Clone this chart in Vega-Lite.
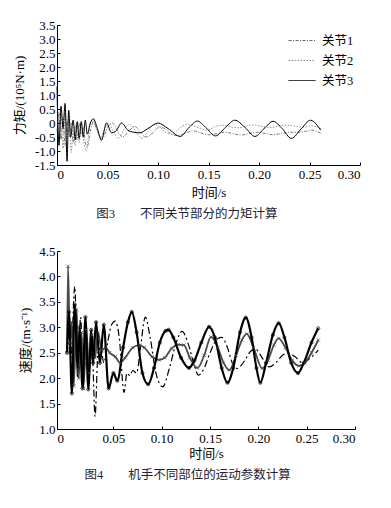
{
  "$schema": "https://vega.github.io/schema/vega-lite/v6.json",
  "padding": {"left": 13, "top": 19, "right": 5, "bottom": 5},
  "spacing": 24,
  "config": {
    "view": {"stroke": null},
    "font": "Liberation Serif, Times New Roman, Noto Sans CJK SC",
    "axis": {
      "grid": false, "domainColor": "#000", "tickColor": "#000", "labelColor": "#000", "titleColor": "#000",
      "labelFont": "Liberation Serif, Times New Roman, DejaVu Serif, serif", "labelFontSize": 13,
      "titleFont": "Liberation Serif, Times New Roman, Noto Sans CJK SC", "titleFontSize": 13, "titleFontWeight": "normal",
      "tickSize": -3, "labelPadding": 5, "domainWidth": 1, "tickWidth": 1
    },
    "legend": {"labelFont": "Liberation Serif, Times New Roman, Noto Sans CJK SC", "labelFontSize": 12.5, "labelColor": "#000", "padding": 0}
  },
  "datasets": {
    "torque": [
      {"series": "关节1", "t": 0, "v": -0.3}, {"series": "关节1", "t": 0.002, "v": 0.4}, {"series": "关节1", "t": 0.004, "v": -0.6}, {"series": "关节1", "t": 0.006, "v": 0.2}, {"series": "关节1", "t": 0.008, "v": -0.8}, {"series": "关节1", "t": 0.010, "v": 0.1}, {"series": "关节1", "t": 0.012, "v": -0.5}, {"series": "关节1", "t": 0.014, "v": 0.0}, {"series": "关节1", "t": 0.016, "v": -0.7}, {"series": "关节1", "t": 0.018, "v": -0.1}, {"series": "关节1", "t": 0.020, "v": -0.6}, {"series": "关节1", "t": 0.022, "v": 0.0}, {"series": "关节1", "t": 0.024, "v": -0.4}, {"series": "关节1", "t": 0.026, "v": -0.1}, {"series": "关节1", "t": 0.028, "v": -0.7}, {"series": "关节1", "t": 0.030, "v": -0.85}, {"series": "关节1", "t": 0.033, "v": -0.3}, {"series": "关节1", "t": 0.036, "v": 0.05}, {"series": "关节1", "t": 0.040, "v": -0.3}, {"series": "关节1", "t": 0.045, "v": -0.55}, {"series": "关节1", "t": 0.050, "v": -0.15}, {"series": "关节1", "t": 0.055, "v": 0.0}, {"series": "关节1", "t": 0.060, "v": -0.3}, {"series": "关节1", "t": 0.065, "v": -0.5}, {"series": "关节1", "t": 0.071, "v": -0.3}, {"series": "关节1", "t": 0.077, "v": -0.12}, {"series": "关节1", "t": 0.083, "v": -0.35}, {"series": "关节1", "t": 0.089, "v": -0.5}, {"series": "关节1", "t": 0.095, "v": -0.35}, {"series": "关节1", "t": 0.101, "v": -0.15}, {"series": "关节1", "t": 0.107, "v": -0.2}, {"series": "关节1", "t": 0.113, "v": -0.4}, {"series": "关节1", "t": 0.120, "v": -0.45}, {"series": "关节1", "t": 0.128, "v": -0.35}, {"series": "关节1", "t": 0.135, "v": -0.28}, {"series": "关节1", "t": 0.142, "v": -0.35}, {"series": "关节1", "t": 0.150, "v": -0.42}, {"series": "关节1", "t": 0.158, "v": -0.38}, {"series": "关节1", "t": 0.166, "v": -0.33}, {"series": "关节1", "t": 0.174, "v": -0.38}, {"series": "关节1", "t": 0.182, "v": -0.43}, {"series": "关节1", "t": 0.190, "v": -0.38}, {"series": "关节1", "t": 0.198, "v": -0.33}, {"series": "关节1", "t": 0.206, "v": -0.37}, {"series": "关节1", "t": 0.214, "v": -0.42}, {"series": "关节1", "t": 0.222, "v": -0.37}, {"series": "关节1", "t": 0.230, "v": -0.33}, {"series": "关节1", "t": 0.238, "v": -0.33}, {"series": "关节1", "t": 0.246, "v": -0.3}, {"series": "关节1", "t": 0.252, "v": -0.25}, {"series": "关节1", "t": 0.258, "v": -0.32}, {"series": "关节1", "t": 0.262, "v": -0.38},
      {"series": "关节2", "t": 0, "v": 0.9}, {"series": "关节2", "t": 0.002, "v": -0.6}, {"series": "关节2", "t": 0.004, "v": 0.3}, {"series": "关节2", "t": 0.006, "v": -0.9}, {"series": "关节2", "t": 0.008, "v": 0.5}, {"series": "关节2", "t": 0.010, "v": -0.4}, {"series": "关节2", "t": 0.012, "v": 0.45}, {"series": "关节2", "t": 0.014, "v": -1.05}, {"series": "关节2", "t": 0.016, "v": -0.3}, {"series": "关节2", "t": 0.018, "v": -0.8}, {"series": "关节2", "t": 0.020, "v": 0.0}, {"series": "关节2", "t": 0.022, "v": -0.7}, {"series": "关节2", "t": 0.024, "v": 0.05}, {"series": "关节2", "t": 0.026, "v": -0.55}, {"series": "关节2", "t": 0.029, "v": -1.0}, {"series": "关节2", "t": 0.032, "v": -0.2}, {"series": "关节2", "t": 0.035, "v": 0.1}, {"series": "关节2", "t": 0.039, "v": -0.2}, {"series": "关节2", "t": 0.043, "v": -0.5}, {"series": "关节2", "t": 0.047, "v": -0.2}, {"series": "关节2", "t": 0.051, "v": 0.0}, {"series": "关节2", "t": 0.056, "v": -0.3}, {"series": "关节2", "t": 0.061, "v": -0.55}, {"series": "关节2", "t": 0.066, "v": -0.25}, {"series": "关节2", "t": 0.072, "v": -0.05}, {"series": "关节2", "t": 0.078, "v": -0.3}, {"series": "关节2", "t": 0.084, "v": -0.55}, {"series": "关节2", "t": 0.090, "v": -0.3}, {"series": "关节2", "t": 0.096, "v": -0.05}, {"series": "关节2", "t": 0.102, "v": -0.15}, {"series": "关节2", "t": 0.108, "v": -0.35}, {"series": "关节2", "t": 0.114, "v": -0.4}, {"series": "关节2", "t": 0.121, "v": -0.2}, {"series": "关节2", "t": 0.128, "v": -0.05}, {"series": "关节2", "t": 0.135, "v": -0.1}, {"series": "关节2", "t": 0.142, "v": -0.2}, {"series": "关节2", "t": 0.149, "v": -0.25}, {"series": "关节2", "t": 0.157, "v": -0.12}, {"series": "关节2", "t": 0.164, "v": -0.08}, {"series": "关节2", "t": 0.172, "v": -0.14}, {"series": "关节2", "t": 0.180, "v": -0.17}, {"series": "关节2", "t": 0.188, "v": -0.1}, {"series": "关节2", "t": 0.196, "v": -0.07}, {"series": "关节2", "t": 0.204, "v": -0.13}, {"series": "关节2", "t": 0.212, "v": -0.16}, {"series": "关节2", "t": 0.220, "v": -0.1}, {"series": "关节2", "t": 0.228, "v": -0.08}, {"series": "关节2", "t": 0.236, "v": -0.12}, {"series": "关节2", "t": 0.244, "v": -0.15}, {"series": "关节2", "t": 0.252, "v": -0.1}, {"series": "关节2", "t": 0.258, "v": -0.15}, {"series": "关节2", "t": 0.262, "v": -0.22},
      {"series": "关节3", "t": 0, "v": 1.3}, {"series": "关节3", "t": 0.002, "v": -0.8}, {"series": "关节3", "t": 0.004, "v": 0.6}, {"series": "关节3", "t": 0.006, "v": -0.2}, {"series": "关节3", "t": 0.008, "v": 0.7}, {"series": "关节3", "t": 0.010, "v": -1.37}, {"series": "关节3", "t": 0.0115, "v": 0.45}, {"series": "关节3", "t": 0.0135, "v": -0.5}, {"series": "关节3", "t": 0.016, "v": 0.1}, {"series": "关节3", "t": 0.018, "v": -0.6}, {"series": "关节3", "t": 0.020, "v": 0.05}, {"series": "关节3", "t": 0.022, "v": -0.55}, {"series": "关节3", "t": 0.024, "v": 0.05}, {"series": "关节3", "t": 0.026, "v": -0.5}, {"series": "关节3", "t": 0.028, "v": 0.1}, {"series": "关节3", "t": 0.030, "v": -0.4}, {"series": "关节3", "t": 0.033, "v": 0.0}, {"series": "关节3", "t": 0.036, "v": 0.15}, {"series": "关节3", "t": 0.040, "v": -0.2}, {"series": "关节3", "t": 0.044, "v": -0.62}, {"series": "关节3", "t": 0.049, "v": 0.0}, {"series": "关节3", "t": 0.054, "v": -0.35}, {"series": "关节3", "t": 0.058, "v": -0.3}, {"series": "关节3", "t": 0.064, "v": 0.0}, {"series": "关节3", "t": 0.070, "v": -0.25}, {"series": "关节3", "t": 0.076, "v": -0.33}, {"series": "关节3", "t": 0.082, "v": -0.35}, {"series": "关节3", "t": 0.090, "v": -0.2}, {"series": "关节3", "t": 0.100, "v": 0.0}, {"series": "关节3", "t": 0.110, "v": -0.2}, {"series": "关节3", "t": 0.122, "v": -0.48}, {"series": "关节3", "t": 0.131, "v": -0.15}, {"series": "关节3", "t": 0.139, "v": 0.07}, {"series": "关节3", "t": 0.147, "v": -0.15}, {"series": "关节3", "t": 0.157, "v": -0.46}, {"series": "关节3", "t": 0.167, "v": -0.15}, {"series": "关节3", "t": 0.176, "v": 0.1}, {"series": "关节3", "t": 0.186, "v": -0.15}, {"series": "关节3", "t": 0.196, "v": -0.48}, {"series": "关节3", "t": 0.205, "v": -0.2}, {"series": "关节3", "t": 0.214, "v": 0.06}, {"series": "关节3", "t": 0.223, "v": -0.2}, {"series": "关节3", "t": 0.232, "v": -0.55}, {"series": "关节3", "t": 0.242, "v": -0.2}, {"series": "关节3", "t": 0.251, "v": 0.1}, {"series": "关节3", "t": 0.258, "v": -0.1}, {"series": "关节3", "t": 0.261, "v": -0.25}
    ],
    "speed": [
      {"series": "关节1", "t": 0.002, "v": 2.5}, {"series": "关节1", "t": 0.004, "v": 3.3}, {"series": "关节1", "t": 0.007, "v": 1.7}, {"series": "关节1", "t": 0.010, "v": 3.45}, {"series": "关节1", "t": 0.013, "v": 2.2}, {"series": "关节1", "t": 0.015, "v": 3.0}, {"series": "关节1", "t": 0.018, "v": 1.8}, {"series": "关节1", "t": 0.021, "v": 3.2}, {"series": "关节1", "t": 0.024, "v": 1.78}, {"series": "关节1", "t": 0.027, "v": 2.95}, {"series": "关节1", "t": 0.029, "v": 2.3}, {"series": "关节1", "t": 0.032, "v": 3.1}, {"series": "关节1", "t": 0.036, "v": 2.3}, {"series": "关节1", "t": 0.040, "v": 3.05}, {"series": "关节1", "t": 0.045, "v": 1.8}, {"series": "关节1", "t": 0.050, "v": 2.1}, {"series": "关节1", "t": 0.054, "v": 1.95}, {"series": "关节1", "t": 0.060, "v": 2.6}, {"series": "关节1", "t": 0.065, "v": 3.1}, {"series": "关节1", "t": 0.069, "v": 3.3}, {"series": "关节1", "t": 0.074, "v": 2.9}, {"series": "关节1", "t": 0.080, "v": 2.1}, {"series": "关节1", "t": 0.086, "v": 1.88}, {"series": "关节1", "t": 0.092, "v": 2.2}, {"series": "关节1", "t": 0.098, "v": 2.7}, {"series": "关节1", "t": 0.104, "v": 2.93}, {"series": "关节1", "t": 0.107, "v": 2.95}, {"series": "关节1", "t": 0.112, "v": 2.8}, {"series": "关节1", "t": 0.120, "v": 2.4}, {"series": "关节1", "t": 0.128, "v": 2.2}, {"series": "关节1", "t": 0.134, "v": 2.35}, {"series": "关节1", "t": 0.141, "v": 2.7}, {"series": "关节1", "t": 0.149, "v": 3.01}, {"series": "关节1", "t": 0.155, "v": 2.8}, {"series": "关节1", "t": 0.162, "v": 2.2}, {"series": "关节1", "t": 0.168, "v": 1.91}, {"series": "关节1", "t": 0.174, "v": 2.2}, {"series": "关节1", "t": 0.181, "v": 2.9}, {"series": "关节1", "t": 0.187, "v": 3.19}, {"series": "关节1", "t": 0.193, "v": 2.8}, {"series": "关节1", "t": 0.198, "v": 2.2}, {"series": "关节1", "t": 0.202, "v": 1.91}, {"series": "关节1", "t": 0.208, "v": 2.3}, {"series": "关节1", "t": 0.215, "v": 2.85}, {"series": "关节1", "t": 0.221, "v": 3.08}, {"series": "关节1", "t": 0.227, "v": 2.8}, {"series": "关节1", "t": 0.234, "v": 2.3}, {"series": "关节1", "t": 0.241, "v": 2.1}, {"series": "关节1", "t": 0.247, "v": 2.3}, {"series": "关节1", "t": 0.255, "v": 2.7}, {"series": "关节1", "t": 0.262, "v": 2.98},
      {"series": "关节2", "t": 0.002, "v": 2.5}, {"series": "关节2", "t": 0.003, "v": 4.2}, {"series": "关节2", "t": 0.005, "v": 2.7}, {"series": "关节2", "t": 0.007, "v": 3.1}, {"series": "关节2", "t": 0.009, "v": 1.85}, {"series": "关节2", "t": 0.012, "v": 3.35}, {"series": "关节2", "t": 0.014, "v": 2.0}, {"series": "关节2", "t": 0.017, "v": 2.9}, {"series": "关节2", "t": 0.019, "v": 1.8}, {"series": "关节2", "t": 0.022, "v": 2.95}, {"series": "关节2", "t": 0.025, "v": 2.1}, {"series": "关节2", "t": 0.028, "v": 2.85}, {"series": "关节2", "t": 0.031, "v": 2.4}, {"series": "关节2", "t": 0.034, "v": 2.9}, {"series": "关节2", "t": 0.038, "v": 2.55}, {"series": "关节2", "t": 0.042, "v": 2.6}, {"series": "关节2", "t": 0.046, "v": 2.5}, {"series": "关节2", "t": 0.052, "v": 2.42}, {"series": "关节2", "t": 0.057, "v": 2.3}, {"series": "关节2", "t": 0.062, "v": 2.4}, {"series": "关节2", "t": 0.070, "v": 2.6}, {"series": "关节2", "t": 0.077, "v": 2.65}, {"series": "关节2", "t": 0.082, "v": 2.6}, {"series": "关节2", "t": 0.090, "v": 2.42}, {"series": "关节2", "t": 0.097, "v": 2.36}, {"series": "关节2", "t": 0.103, "v": 2.4}, {"series": "关节2", "t": 0.110, "v": 2.58}, {"series": "关节2", "t": 0.117, "v": 2.66}, {"series": "关节2", "t": 0.123, "v": 2.65}, {"series": "关节2", "t": 0.129, "v": 2.4}, {"series": "关节2", "t": 0.137, "v": 2.2}, {"series": "关节2", "t": 0.144, "v": 2.45}, {"series": "关节2", "t": 0.151, "v": 2.81}, {"series": "关节2", "t": 0.158, "v": 2.6}, {"series": "关节2", "t": 0.164, "v": 2.3}, {"series": "关节2", "t": 0.170, "v": 2.16}, {"series": "关节2", "t": 0.177, "v": 2.45}, {"series": "关节2", "t": 0.183, "v": 2.75}, {"series": "关节2", "t": 0.188, "v": 2.87}, {"series": "关节2", "t": 0.195, "v": 2.6}, {"series": "关节2", "t": 0.204, "v": 2.19}, {"series": "关节2", "t": 0.210, "v": 2.35}, {"series": "关节2", "t": 0.216, "v": 2.65}, {"series": "关节2", "t": 0.221, "v": 2.78}, {"series": "关节2", "t": 0.228, "v": 2.6}, {"series": "关节2", "t": 0.235, "v": 2.35}, {"series": "关节2", "t": 0.242, "v": 2.24}, {"series": "关节2", "t": 0.248, "v": 2.3}, {"series": "关节2", "t": 0.255, "v": 2.5}, {"series": "关节2", "t": 0.262, "v": 2.75},
      {"series": "关节3", "t": 0.003, "v": 2.9}, {"series": "关节3", "t": 0.006, "v": 2.4}, {"series": "关节3", "t": 0.010, "v": 3.8}, {"series": "关节3", "t": 0.013, "v": 2.0}, {"series": "关节3", "t": 0.016, "v": 3.2}, {"series": "关节3", "t": 0.019, "v": 1.9}, {"series": "关节3", "t": 0.022, "v": 2.7}, {"series": "关节3", "t": 0.025, "v": 2.2}, {"series": "关节3", "t": 0.028, "v": 2.5}, {"series": "关节3", "t": 0.031, "v": 1.25}, {"series": "关节3", "t": 0.034, "v": 2.5}, {"series": "关节3", "t": 0.037, "v": 2.6}, {"series": "关节3", "t": 0.040, "v": 2.3}, {"series": "关节3", "t": 0.044, "v": 2.7}, {"series": "关节3", "t": 0.048, "v": 3.05}, {"series": "关节3", "t": 0.052, "v": 3.12}, {"series": "关节3", "t": 0.056, "v": 2.8}, {"series": "关节3", "t": 0.061, "v": 1.72}, {"series": "关节3", "t": 0.064, "v": 2.1}, {"series": "关节3", "t": 0.067, "v": 2.05}, {"series": "关节3", "t": 0.070, "v": 2.15}, {"series": "关节3", "t": 0.074, "v": 2.1}, {"series": "关节3", "t": 0.078, "v": 2.6}, {"series": "关节3", "t": 0.083, "v": 3.2}, {"series": "关节3", "t": 0.088, "v": 2.8}, {"series": "关节3", "t": 0.094, "v": 2.1}, {"series": "关节3", "t": 0.101, "v": 1.83}, {"series": "关节3", "t": 0.108, "v": 2.2}, {"series": "关节3", "t": 0.115, "v": 2.7}, {"series": "关节3", "t": 0.121, "v": 2.92}, {"series": "关节3", "t": 0.127, "v": 2.7}, {"series": "关节3", "t": 0.133, "v": 2.3}, {"series": "关节3", "t": 0.138, "v": 2.06}, {"series": "关节3", "t": 0.144, "v": 2.2}, {"series": "关节3", "t": 0.150, "v": 2.5}, {"series": "关节3", "t": 0.158, "v": 2.78}, {"series": "关节3", "t": 0.162, "v": 2.8}, {"series": "关节3", "t": 0.168, "v": 2.6}, {"series": "关节3", "t": 0.173, "v": 2.3}, {"series": "关节3", "t": 0.178, "v": 2.19}, {"series": "关节3", "t": 0.186, "v": 2.35}, {"series": "关节3", "t": 0.192, "v": 2.53}, {"series": "关节3", "t": 0.197, "v": 2.57}, {"series": "关节3", "t": 0.204, "v": 2.4}, {"series": "关节3", "t": 0.211, "v": 2.22}, {"series": "关节3", "t": 0.218, "v": 2.3}, {"series": "关节3", "t": 0.225, "v": 2.45}, {"series": "关节3", "t": 0.231, "v": 2.49}, {"series": "关节3", "t": 0.238, "v": 2.42}, {"series": "关节3", "t": 0.246, "v": 2.3}, {"series": "关节3", "t": 0.254, "v": 2.4}, {"series": "关节3", "t": 0.262, "v": 2.55}
    ]
  },
  "vconcat": [
    {
      "width": 303, "height": 140,
      "data": {"name": "torque"},
      "title": {"text": "图3　　不同关节部分的力矩计算", "orient": "bottom", "frame": "bounds", "anchor": "middle", "font": "Liberation Serif, Times New Roman, Noto Sans CJK SC", "fontSize": 12.5, "fontWeight": "normal", "color": "#222233", "offset": 9},
      "encoding": {
        "x": {"field": "t", "type": "quantitative", "scale": {"domain": [0, 0.3], "nice": false, "zero": false},
          "axis": {"title": "时间/s", "values": [0, 0.05, 0.1, 0.15, 0.2, 0.25, 0.3], "labelExpr": "datum.value == 0 ? '0' : format(datum.value, '.2f')", "labelPadding": 6, "titlePadding": 5}},
        "y": {"field": "v", "type": "quantitative", "scale": {"domain": [-1.5, 3.5], "nice": false, "zero": false},
          "axis": {"title": "力矩/(10⁵N·m)", "values": [-1.5, -1, -0.5, 0, 0.5, 1, 1.5, 2, 2.5, 3, 3.5], "labelExpr": "datum.value == 0 ? '0' : replace(format(datum.value, '.1f'), '−', '-')", "titlePadding": 8}},
        "color": {"field": "series", "type": "nominal", "scale": {"domain": ["关节1", "关节2", "关节3"], "range": ["#666666", "#888888", "#000000"]},
          "legend": {"title": null, "orient": "none", "legendX": 238.5, "legendY": 9, "symbolType": "M-2.25,0L2.25,0", "symbolSize": 144, "symbolStrokeWidth": 1, "labelOffset": 13.5, "rowPadding": 7,
            "encode": {"symbols": {"update": {"strokeDash": {"signal": "datum.value === '关节1' ? [3, 1.5, 1, 1.5] : datum.value === '关节2' ? [1.5, 1.5] : [1, 0]"}, "strokeWidth": {"value": 1}}}}}}
      },
      "layer": [
        {"transform": [{"filter": "datum.series === '关节1'"}], "mark": {"type": "line", "interpolate": "monotone", "strokeWidth": 0.9, "strokeDash": [3, 1.5, 1, 1.5]}},
        {"transform": [{"filter": "datum.series === '关节2'"}], "mark": {"type": "line", "interpolate": "monotone", "strokeWidth": 0.9, "strokeDash": [1.5, 1.5]}},
        {"transform": [{"filter": "datum.series === '关节3'"}], "mark": {"type": "line", "interpolate": "monotone", "strokeWidth": 1}}
      ]
    },
    {
      "width": 298, "height": 178,
      "data": {"name": "speed"},
      "title": {"text": "图4　　机手不同部位的运动参数计算", "orient": "bottom", "frame": "bounds", "anchor": "middle", "font": "Liberation Serif, Times New Roman, Noto Sans CJK SC", "fontSize": 12.5, "fontWeight": "normal", "color": "#222233", "offset": 9},
      "encoding": {
        "x": {"field": "t", "type": "quantitative", "scale": {"domain": [-0.0084, 0.3], "nice": false, "zero": false},
          "axis": {"title": "时间/s", "values": [-0.0084, 0.05, 0.1, 0.15, 0.2, 0.25, 0.3], "labelExpr": "datum.value < 0.01 ? '0' : format(datum.value, '.2f')", "labelPadding": 6, "titlePadding": 2}},
        "y": {"field": "v", "type": "quantitative", "scale": {"domain": [1, 4.5], "nice": false, "zero": false},
          "axis": {"title": "速度/(m·s⁻¹)", "values": [1, 1.5, 2, 2.5, 3, 3.5, 4, 4.5], "format": ".1f", "titlePadding": 6}}
      },
      "layer": [
        {
          "transform": [{"filter": "datum.series === '关节3'"}],
          "mark": {"type": "line", "interpolate": "monotone", "strokeWidth": 1.2, "strokeDash": [7, 3, 2, 3]},
          "encoding": {
            "color": {"field": "series", "type": "nominal", "scale": {"domain": ["关节1", "关节2", "关节3"], "range": ["#000000", "#000000", "#000000"]},
              "legend": {"title": null, "orient": "none", "legendX": 177.5, "legendY": 8, "symbolSize": 144, "symbolType": "M-4.17,0L4.17,0", "symbolStrokeWidth": 1, "symbolFillColor": "transparent", "labelOffset": 23.5, "rowPadding": 7.5,
                "encode": {"symbols": {"update": {
                  "shape": {"signal": "datum.value === '关节1' ? 'M-4.17,0L-0.33,0M0.33,0L4.17,0M0.33,0A0.33,0.33 0 1 1 -0.33,0A0.33,0.33 0 1 1 0.33,0' : datum.value === '关节2' ? 'M-4.17,0L4.17,0M-0.3,-0.3L0.3,0.3M0.3,-0.3L-0.3,0.3' : 'M-4.17,0L4.17,0'"},
                  "strokeDash": {"signal": "datum.value === '关节3' ? [7, 3, 2, 3] : [1, 0]"},
                  "strokeWidth": {"value": 1},
                  "stroke": {"value": "#000000"},
                  "fill": {"value": "transparent"}}}}}}
          }
        },
        {
          "transform": [{"filter": "datum.series === '关节2'"}],
          "mark": {"type": "line", "interpolate": "monotone", "strokeWidth": 1.8, "color": "#4a4a4a"}
        },
        {
          "transform": [{"filter": "datum.series === '关节1'"}],
          "mark": {"type": "line", "interpolate": "monotone", "strokeWidth": 2.2, "color": "#000000"}
        },
        {
          "transform": [{"filter": "datum.series === '关节1'"}],
          "mark": {"type": "point", "shape": "circle", "size": 10, "filled": false, "color": "#000", "strokeWidth": 0.7, "opacity": 1}
        },
        {
          "transform": [{"filter": "datum.series === '关节2'"}],
          "mark": {"type": "point", "shape": "M-1,-1L1,1M1,-1L-1,1", "size": 12, "filled": false, "color": "#4a4a4a", "strokeWidth": 0.7, "opacity": 1}
        }
      ]
    }
  ]
}
